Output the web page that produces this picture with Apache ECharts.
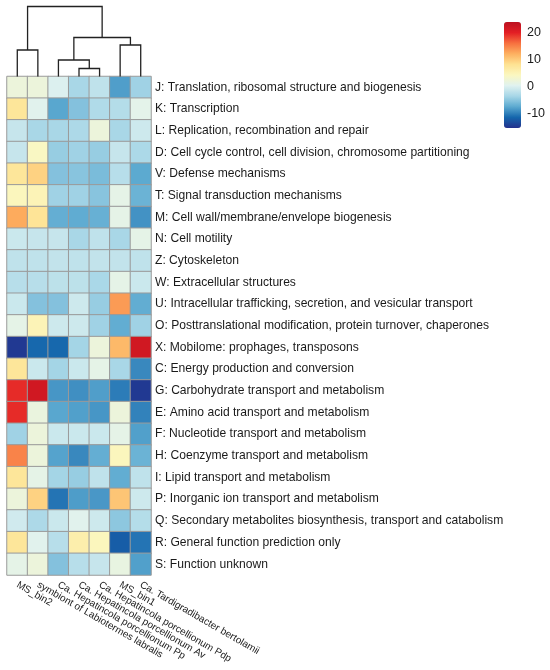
<!DOCTYPE html>
<html>
<head>
<meta charset="utf-8">
<script src="https://cdn.jsdelivr.net/npm/echarts@6/dist/echarts.min.js"></script>
<style>
  html, body { margin: 0; padding: 0; background: #fff; }
  #main { width: 550px; height: 670px; }
</style>
</head>
<body>
<div id="main"></div>
<script>
// genomes (columns, already in dendrogram order)
var genomes = [
  "MS_bin2",
  "symbiont of Labiotermes labralis",
  "Ca. Hepatincola porcellionum Pp",
  "Ca. Hepatincola porcellionum Av",
  "Ca. Hepatincola porcellionum Pdp",
  "MS_bin1",
  "Ca. Tardigradibacter bertolamii"
];

// COG categories (rows, top to bottom)
var cogs = [
  "J: Translation, ribosomal structure and biogenesis",
  "K: Transcription",
  "L: Replication, recombination and repair",
  "D: Cell cycle control, cell division, chromosome partitioning",
  "V: Defense mechanisms",
  "T: Signal transduction mechanisms",
  "M: Cell wall/membrane/envelope biogenesis",
  "N: Cell motility",
  "Z: Cytoskeleton",
  "W: Extracellular structures",
  "U: Intracellular trafficking, secretion, and vesicular transport",
  "O: Posttranslational modification, protein turnover, chaperones",
  "X: Mobilome: prophages, transposons",
  "C: Energy production and conversion",
  "G: Carbohydrate transport and metabolism",
  "E: Amino acid transport and metabolism",
  "F: Nucleotide transport and metabolism",
  "H: Coenzyme transport and metabolism",
  "I: Lipid transport and metabolism",
  "P: Inorganic ion transport and metabolism",
  "Q: Secondary metabolites biosynthesis, transport and catabolism",
  "R: General function prediction only",
  "S: Function unknown"
];

// one row per COG category, one value per genome
var values = [
  [2, 2, 0, -3.5, -2, -8.3, -4],
  [7.5, 0.5, -7.8, -5.5, -3, -2.7, 0.8],
  [-1.5, -3.5, -3.5, -3.2, 2, -3.5, -1],
  [-1.5, 4, -4.5, -4, -4.5, -1.5, -3.3],
  [7.5, 9.5, -5.5, -5.3, -6, -2.5, -7.6],
  [4.5, 5, -4, -4, -5.3, 1, -6.8],
  [12.5, 7.8, -7.2, -7.4, -7, 1, -9],
  [-1.2, -1.5, -1.5, -3.5, -2, -3.5, 1],
  [-2, -2, -1.8, -2, -1.8, -1.8, -2],
  [-2.5, -2.5, -2.2, -2.2, -3.4, 1, -1.2],
  [-1.2, -5.5, -5.5, -1, -4.5, 13.5, -7.3],
  [1, 5, -1, -1, -4, -7.3, -4],
  [-15, -11.5, -11.5, -3.8, 2, 11.5, 22],
  [7.5, -1.2, -3.8, -1.2, 1, -3.5, -9.6],
  [19.5, 22, -8.8, -9.2, -8.3, -10.3, -15],
  [19.5, 1.8, -7.8, -8.2, -8.8, 2, -10],
  [-4, 2, -1.2, -1.2, -1.2, 1, -8.2],
  [15, 2, -8, -9.6, -7.2, 4.5, -6.8],
  [7.5, 1, -3.8, -4.5, -2, -7.3, -2],
  [2, 9.5, -10.8, -8.4, -8.7, 10.5, -1],
  [-0.8, -3.2, -1.2, 0.5, -1, -5, -2.7],
  [7.5, 0.5, -2.5, 6, 4.5, -12.3, -10.8],
  [1, 2, -5.5, -2.5, -1.5, 1.5, -8.2]
];

// column clustering, hclust style (negative = leaf, positive = earlier merge)
var merge = [[-4, -5], [-3, 1], [-1, -2], [-6, -7], [2, 4], [3, 5]];
var mergeHeight = [8, 16.5, 26.5, 31.5, 39, 70];

var colorMin = -15.6, colorMax = 24.1;
var legendTicks = [-10, 0, 10, 20];

var palette = ["#23318d", "#1566ac", "#5ba9d0", "#a6d6e7", "#e0f2f0", "#fbf7c0",
  "#fee292", "#fdb060", "#f7703f", "#e31e24", "#bb1120"];

var heatData = [];
values.forEach(function (row, r) {
  row.forEach(function (v, c) { heatData.push([c, r, v]); });
});

// dendrogram segments: [xLeft, hLeft, xRight, hRight, h]
var nodeX = [], nodeH = [], dendro = [];
function pos(id) {
  return id < 0 ? { x: -id - 1, h: 0 } : { x: nodeX[id - 1], h: nodeH[id - 1] };
}
merge.forEach(function (m, i) {
  var a = pos(m[0]), b = pos(m[1]);
  nodeX.push((a.x + b.x) / 2);
  nodeH.push(mergeHeight[i]);
  dendro.push([a.x, a.h, b.x, b.h, mergeHeight[i]]);
});

var txt = "#1a1a1a";
var font = "Liberation Sans";

var myChart = echarts.init(document.getElementById("main"));
var option = {
  animation: false,
  textStyle: { fontFamily: font },
  grid: [
    { left: 7, top: 76.5, width: 144, height: 498.5 },   // heatmap
    { left: 7, top: 6.5, width: 144, height: 70 },       // dendrogram
    { left: 504, top: 22, width: 17, height: 106 }       // legend axis
  ],
  xAxis: [
    {
      type: "category", gridIndex: 0, data: genomes,
      axisLine: { show: false }, axisTick: { show: false },
      axisLabel: { interval: 0, rotate: -30, margin: 9, fontSize: 10, color: txt, fontFamily: font }
    },
    { type: "value", gridIndex: 1, min: -0.5, max: 6.5, show: false },
    { type: "value", gridIndex: 2, min: 0, max: 1, show: false }
  ],
  yAxis: [
    {
      type: "category", gridIndex: 0, data: cogs, inverse: true, position: "right",
      axisLine: { show: false }, axisTick: { show: false },
      axisLabel: { interval: 0, margin: 4, fontSize: 12.1, color: txt, fontFamily: font }
    },
    { type: "value", gridIndex: 1, min: 0, max: 70, show: false },
    {
      type: "value", gridIndex: 2, min: colorMin, max: colorMax, position: "right",
      axisLine: { show: false }, axisTick: { show: false }, splitLine: { show: false },
      axisLabel: { customValues: legendTicks, margin: 6, fontSize: 12.5, color: txt, fontFamily: font }
    }
  ],
  visualMap: {
    type: "continuous",
    min: colorMin, max: colorMax,
    seriesIndex: 0,
    calculable: false,
    hoverLink: false,
    left: 504, top: 22,
    padding: 0,
    itemWidth: 17, itemHeight: 106,
    inRange: { color: palette }
  },
  series: [
    {
      type: "heatmap",
      xAxisIndex: 0, yAxisIndex: 0,
      data: heatData,
      itemStyle: { borderColor: "#9a9a9a", borderWidth: 1 }
    },
    {
      type: "custom",
      xAxisIndex: 1, yAxisIndex: 1,
      data: dendro,
      renderItem: function (params, api) {
        var p1 = api.coord([api.value(0), api.value(1)]);
        var p2 = api.coord([api.value(0), api.value(4)]);
        var p3 = api.coord([api.value(2), api.value(4)]);
        var p4 = api.coord([api.value(2), api.value(3)]);
        return {
          type: "polyline",
          shape: { points: [p1, p2, p3, p4] },
          style: { stroke: "#222", lineWidth: 1.3, fill: null }
        };
      }
    },
    {
      type: "line", xAxisIndex: 2, yAxisIndex: 2, data: [], silent: true
    }
  ]
};
myChart.setOption(option);
</script>
</body>
</html>
